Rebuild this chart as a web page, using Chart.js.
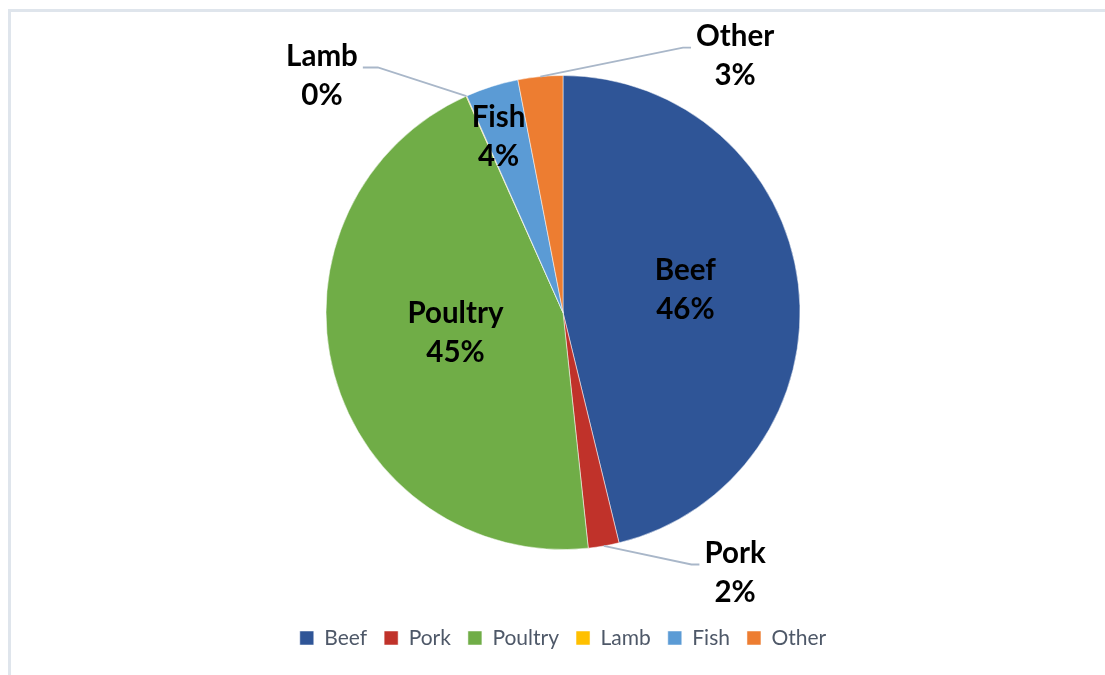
<!DOCTYPE html>
<html>
<head>
<meta charset="utf-8">
<script src="https://cdn.jsdelivr.net/npm/chart.js@4"></script>
<style>
  html, body { margin: 0; padding: 0; background: #fff; overflow: hidden; }
  #frame { position: absolute; left: 8px; top: 9px; width: 1200px; height: 800px;
           border-top: 3px solid #dfe5ec; border-left: 3px solid #dfe5ec; }
  #pieChart { position: absolute; left: 0; top: 0; }
</style>
</head>
<body>
<div id="frame"></div>
<canvas id="pieChart" width="1105" height="675"></canvas>
<script>
const categories = ['Beef', 'Pork', 'Poultry', 'Lamb', 'Fish', 'Other'];
const shares = [46.2, 2.1, 45.0, 0.05, 3.6, 3.05];
const colors = ['#2F5597', '#C0322A', '#70AD47', '#FFC000', '#5B9BD5', '#ED7D31'];

// where each label goes: inside along the mid angle (with a small nudge),
// or outside (in radius units from the centre)
const labelSpots = [
    { inside: true, r: 0.52, nx: 0, ny: -0.035 },
    { dx: 0.726, dy: 1.097 },
    { inside: true, r: 0.47, nx: 0, ny: -0.038 },
    { dx: -1.017, dy: -1.0 },
    { inside: true, r: 0.79, nx: -0.035, ny: 0.012 },
    { dx: 0.726, dy: -1.084 }
];

const sliceLabels = {
    id: 'sliceLabels',
    afterDatasetsDraw(chart) {
        const ctx = chart.ctx;
        const meta = chart.getDatasetMeta(0);
        const total = shares.reduce((a, b) => a + b, 0);
        ctx.save();
        ctx.font = 'bold 29.5px Lato';
        ctx.textAlign = 'center';
        ctx.textBaseline = 'middle';
        meta.data.forEach((arc, i) => {
            const p = arc.getProps(['x', 'y', 'startAngle', 'endAngle', 'outerRadius'], true);
            const mid = (p.startAngle + p.endAngle) / 2;
            const spot = labelSpots[i];
            let cx, cy;
            if (spot.inside) {
                cx = p.x + Math.cos(mid) * p.outerRadius * spot.r + spot.nx * p.outerRadius;
                cy = p.y + Math.sin(mid) * p.outerRadius * spot.r + spot.ny * p.outerRadius;
            } else {
                cx = p.x + spot.dx * p.outerRadius;
                cy = p.y + spot.dy * p.outerRadius;
                // leader line from the slice edge to the label
                const w = ctx.measureText(categories[i]).width;
                const side = spot.dx > 0 ? -1 : 1;
                const endX = cx + side * (w / 2 + 5);
                const ly = cy - 20 + 12;
                const elbowX = endX + side * (spot.dx > 0 ? 8 : 15);
                ctx.beginPath();
                ctx.moveTo(p.x + Math.cos(mid) * p.outerRadius, p.y + Math.sin(mid) * p.outerRadius);
                ctx.lineTo(elbowX, ly);
                ctx.lineTo(endX, ly);
                ctx.strokeStyle = '#A9B7C9';
                ctx.lineWidth = 1.8;
                ctx.stroke();
            }
            ctx.fillStyle = '#000';
            ctx.fillText(categories[i], cx, cy - 19.5);
            ctx.fillText(Math.round(shares[i] / total * 100) + '%', cx, cy + 19.5);
        });
        ctx.restore();
    }
};

new Chart(document.getElementById('pieChart'), {
    type: 'pie',
    data: {
        labels: categories,
        datasets: [{
            data: shares,
            backgroundColor: colors,
            borderColor: '#ffffff',
            borderWidth: 0.5,
            radius: 237
        }]
    },
    options: {
        responsive: false,
        animation: false,
        layout: { padding: { left: 21, right: 0, top: 14.5, bottom: 16.5 } },
        plugins: {
            tooltip: { enabled: false },
            legend: {
                position: 'bottom',
                labels: {
                    boxWidth: 14,
                    boxHeight: 14,
                    padding: 17,
                    color: '#4E5868',
                    font: { family: 'Lato', size: 21 }
                }
            }
        }
    },
    plugins: [sliceLabels]
});
</script>
</body>
</html>
